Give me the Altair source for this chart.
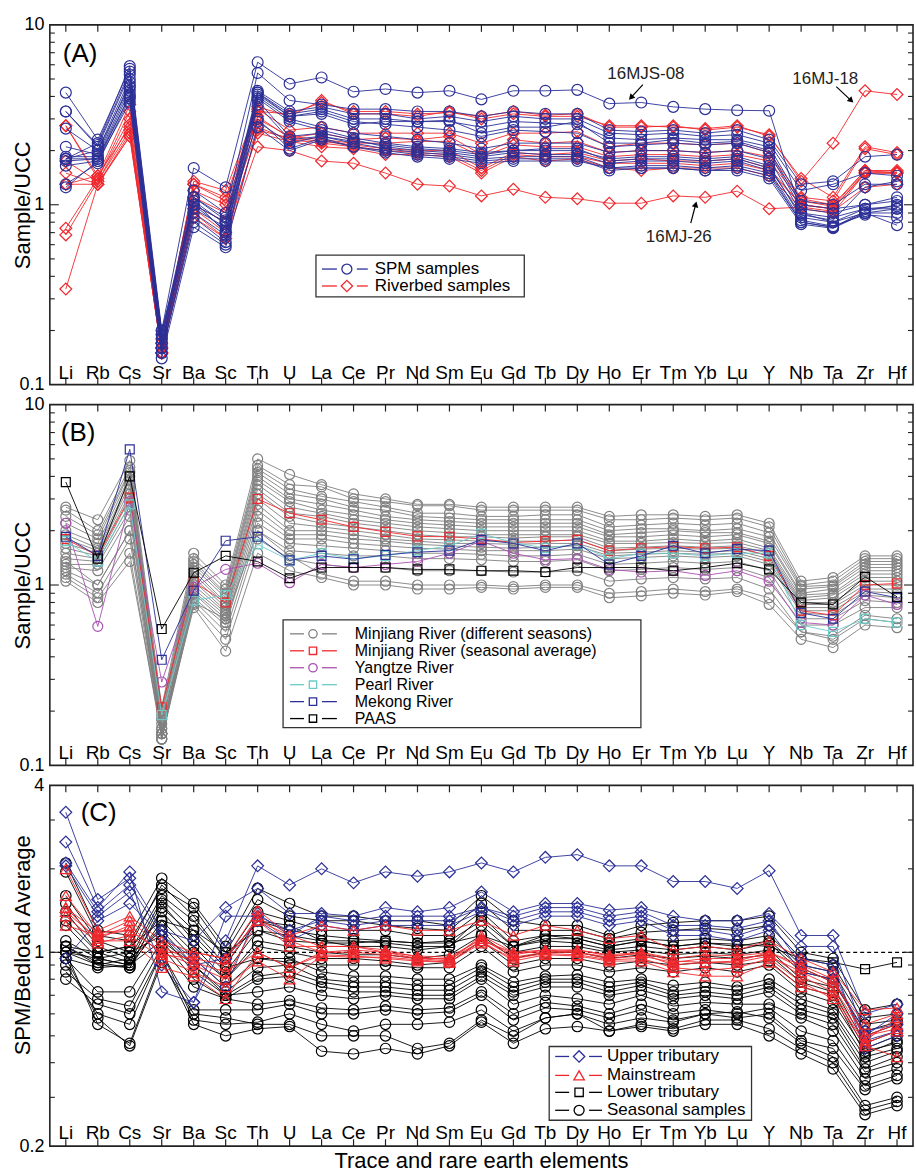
import altair as alt
import pandas as pd

ELEMENTS = ["Li", "Rb", "Cs", "Sr", "Ba", "Sc", "Th", "U", "La", "Ce", "Pr", "Nd", "Sm",
            "Eu", "Gd", "Tb", "Dy", "Ho", "Er", "Tm", "Yb", "Lu", "Y", "Nb", "Ta", "Zr", "Hf"]

# ---------------- Panel A : Sample/UCC ----------------
# order: Li Rb Cs Sr | Ba Sc | Th U | La Ce Pr Nd Sm | Eu Gd Tb Dy | Ho Er Tm Yb Lu | Y | Nb Ta Zr Hf
SPM_SAMPLES = [
    [1.8, 2.2, 5.9, 0.20, 1.6, 1.25, 6.2, 4.7, 5.1, 4.25, 4.4, 4.2, 4.3, 3.85, 4.3, 4.3, 4.35, 3.65, 3.7, 3.5, 3.4, 3.35, 3.33, 0.9, 0.8, 0.95, 0.98],
    [4.2, 2.3, 5.7, 0.19, 1.2, 0.9, 5.4, 3.8, 3.6, 3.4, 3.4, 3.3, 3.3, 3.1, 3.3, 3.2, 3.2, 2.6, 2.55, 2.6, 2.5, 2.6, 2.3, 1.3, 1.35, 1.85, 1.9],
    [3.3, 2.1, 5.3, 0.18, 1.1, 0.85, 4.3, 3.3, 3.5, 3.2, 3.2, 3.0, 3.1, 2.9, 3.1, 3.0, 3.0, 2.5, 2.45, 2.5, 2.4, 2.45, 2.2, 1.2, 1.3, 1.5, 1.45],
    [2.65, 2.0, 5.0, 0.17, 1.0, 0.8, 4.2, 3.2, 3.4, 3.0, 3.0, 2.9, 2.9, 2.7, 2.9, 2.85, 2.8, 2.35, 2.3, 2.35, 2.3, 2.3, 2.1, 1.05, 1.0, 1.3, 1.3],
    [2.1, 1.9, 4.8, 0.17, 0.95, 0.75, 4.1, 3.1, 3.3, 2.9, 2.8, 2.7, 2.6, 2.4, 2.6, 2.55, 2.5, 2.1, 2.15, 2.2, 2.15, 2.2, 1.95, 0.95, 0.9, 1.0, 1.05],
    [1.85, 1.85, 4.5, 0.16, 1.05, 0.7, 4.0, 3.0, 2.7, 2.5, 2.4, 2.3, 2.2, 2.05, 2.2, 2.2, 2.2, 1.95, 2.0, 2.0, 1.95, 2.0, 1.8, 0.9, 0.85, 0.95, 0.95],
    [1.75, 1.8, 4.3, 0.16, 0.9, 0.68, 3.9, 2.9, 2.6, 2.35, 2.2, 2.1, 2.05, 1.95, 2.0, 2.0, 2.0, 1.8, 1.85, 1.85, 1.8, 1.85, 1.65, 0.85, 0.8, 0.9, 0.9],
    [1.65, 1.75, 4.1, 0.15, 0.85, 0.62, 3.8, 2.4, 2.5, 2.3, 2.1, 2.0, 1.95, 1.85, 1.95, 1.9, 1.9, 1.7, 1.75, 1.75, 1.7, 1.75, 1.55, 0.82, 0.76, 0.88, 0.85],
    [1.3, 1.7, 3.9, 0.15, 0.8, 0.6, 3.6, 2.3, 2.4, 2.2, 2.05, 1.95, 1.9, 1.8, 1.85, 1.85, 1.85, 1.6, 1.65, 1.65, 1.6, 1.65, 1.5, 0.8, 0.75, 0.9, 0.77],
    [1.25, 1.75, 3.7, 0.14, 0.75, 0.58, 2.7, 2.0, 2.3, 2.1, 2.0, 1.9, 1.85, 1.75, 1.8, 1.8, 1.8, 1.55, 1.6, 1.6, 1.55, 1.6, 1.45, 0.8, 0.75, 0.92, 1.0],
    [1.8, 2.0, 4.6, 0.18, 1.1, 0.82, 2.9, 2.2, 2.4, 2.25, 2.15, 2.05, 2.0, 1.9, 2.0, 2.05, 2.05, 1.75, 1.8, 1.8, 1.75, 1.8, 1.6, 0.88, 0.82, 1.25, 1.35],
    [3.3, 2.15, 5.5, 0.19, 1.05, 0.78, 4.2, 3.1, 3.2, 2.8, 2.9, 2.9, 2.95, 2.5, 2.7, 2.7, 2.9, 2.2, 2.2, 2.3, 2.2, 2.25, 2.0, 1.0, 0.95, 1.0, 1.1],
    [1.8, 1.8, 4.0, 0.20, 1.0, 0.72, 3.0, 2.05, 2.35, 2.1, 1.95, 1.85, 1.8, 1.7, 1.75, 1.75, 1.75, 1.6, 1.6, 1.6, 1.55, 1.55, 1.4, 0.78, 0.74, 0.9, 0.95],
]
RIVERBED_SAMPLES = [
    [0.34, 1.3, 2.4, 0.15, 0.9, 0.65, 2.1, 2.0, 1.75, 1.7, 1.5, 1.3, 1.27, 1.12, 1.22, 1.1, 1.08, 1.02, 1.02, 1.12, 1.1, 1.19, 0.95, 0.97, 0.92, 1.25, 1.3],
    [0.68, 1.35, 2.6, 0.15, 1.3, 1.05, 3.3, 3.2, 3.7, 3.3, 3.3, 3.2, 3.25, 3.1, 3.3, 3.15, 3.2, 2.7, 2.7, 2.75, 2.6, 2.7, 2.45, 1.35, 2.2, 4.3, 4.1],
    [0.74, 1.4, 3.0, 0.16, 1.35, 1.2, 3.5, 3.1, 3.8, 3.2, 3.2, 3.1, 3.3, 3.0, 3.2, 3.1, 3.1, 2.75, 2.75, 2.7, 2.65, 2.75, 2.4, 1.4, 1.1, 2.1, 1.95],
    [2.75, 1.45, 3.6, 0.17, 1.3, 1.1, 3.4, 2.6, 2.7, 2.5, 2.5, 2.5, 2.5, 2.2, 2.5, 2.5, 2.55, 2.1, 2.2, 2.2, 2.15, 2.2, 1.95, 1.1, 1.05, 2.05, 1.9],
    [1.75, 1.35, 2.8, 0.16, 1.2, 1.0, 3.0, 2.4, 2.3, 2.2, 2.2, 2.25, 2.25, 1.85, 2.15, 2.1, 2.1, 1.85, 1.9, 1.9, 1.85, 1.9, 1.75, 1.05, 0.98, 1.55, 1.5],
    [1.5, 1.3, 2.5, 0.15, 1.0, 0.8, 2.7, 2.3, 2.2, 2.1, 2.0, 1.95, 1.9, 1.55, 1.9, 1.85, 1.85, 1.7, 1.7, 1.7, 1.65, 1.7, 1.55, 1.0, 0.95, 1.5, 1.5],
    [1.3, 1.3, 2.4, 0.15, 0.95, 0.7, 2.5, 2.25, 2.1, 2.05, 1.9, 1.9, 1.85, 1.5, 1.85, 1.75, 1.8, 1.6, 1.55, 1.6, 1.6, 1.6, 1.45, 0.95, 0.9, 1.5, 1.5],
    [2.75, 1.4, 3.3, 0.16, 1.1, 0.9, 3.1, 2.35, 2.5, 2.3, 2.35, 2.3, 2.4, 1.9, 2.3, 2.2, 2.25, 1.95, 2.0, 2.0, 1.95, 2.0, 1.85, 1.08, 1.0, 1.55, 1.55],
    [1.3, 1.45, 2.7, 0.15, 0.85, 0.65, 2.6, 2.35, 2.25, 2.15, 2.05, 2.0, 2.0, 1.6, 1.95, 1.9, 1.95, 1.75, 1.8, 1.75, 1.75, 1.8, 1.6, 1.0, 0.95, 1.52, 1.52],
]

# ---------------- Panel B : Sample/UCC ----------------
MINJIANG_SEASONS = [
    [2.7, 2.3, 4.9, 0.21, 1.5, 1.0, 5.0, 4.1, 3.6, 3.2, 3.0, 2.8, 2.8, 2.7, 2.7, 2.7, 2.7, 2.4, 2.45, 2.45, 2.4, 2.45, 2.2, 1.05, 1.1, 1.45, 1.45],
    [2.6, 2.0, 4.5, 0.20, 1.4, 0.95, 4.6, 3.6, 3.5, 3.0, 2.9, 2.75, 2.75, 2.6, 2.6, 2.6, 2.6, 2.3, 2.3, 2.35, 2.3, 2.35, 2.1, 1.0, 1.05, 1.4, 1.4],
    [2.4, 1.9, 4.3, 0.19, 1.35, 0.9, 4.4, 3.4, 3.1, 2.9, 2.7, 2.5, 2.5, 2.4, 2.4, 2.45, 2.45, 2.1, 2.15, 2.2, 2.15, 2.2, 1.95, 0.98, 1.0, 1.35, 1.35],
    [2.2, 1.8, 4.2, 0.18, 1.3, 0.88, 4.2, 3.2, 3.0, 2.7, 2.6, 2.4, 2.35, 2.3, 2.3, 2.3, 2.3, 2.0, 2.05, 2.05, 2.0, 2.05, 1.85, 0.95, 0.98, 1.3, 1.3],
    [2.0, 1.7, 4.0, 0.18, 1.25, 0.85, 4.0, 3.0, 2.8, 2.6, 2.4, 2.3, 2.25, 2.2, 2.2, 2.2, 2.2, 1.9, 1.95, 2.0, 1.95, 1.95, 1.75, 0.9, 0.95, 1.25, 1.25],
    [1.9, 1.6, 3.8, 0.17, 1.2, 0.8, 3.8, 2.9, 2.6, 2.45, 2.3, 2.2, 2.15, 2.1, 2.1, 2.1, 2.1, 1.85, 1.85, 1.9, 1.85, 1.9, 1.7, 0.88, 0.9, 1.2, 1.2],
    [1.8, 1.55, 3.6, 0.16, 1.15, 0.78, 3.6, 2.7, 2.5, 2.3, 2.2, 2.1, 2.05, 2.0, 2.0, 2.0, 2.0, 1.75, 1.75, 1.8, 1.75, 1.8, 1.6, 0.85, 0.88, 1.15, 1.15],
    [1.7, 1.5, 3.4, 0.16, 1.1, 0.75, 3.4, 2.5, 2.4, 2.2, 2.1, 2.0, 1.95, 1.9, 1.9, 1.9, 1.9, 1.7, 1.7, 1.72, 1.7, 1.72, 1.55, 0.82, 0.85, 1.1, 1.1],
    [1.6, 1.45, 3.2, 0.15, 1.05, 0.72, 3.2, 2.4, 2.2, 2.1, 2.0, 1.9, 1.85, 1.85, 1.82, 1.85, 1.85, 1.6, 1.62, 1.65, 1.62, 1.65, 1.5, 0.8, 0.8, 1.05, 1.05],
    [1.5, 1.4, 3.0, 0.15, 1.0, 0.7, 3.0, 2.2, 2.1, 2.0, 1.9, 1.8, 1.78, 1.75, 1.75, 1.75, 1.78, 1.55, 1.58, 1.6, 1.58, 1.6, 1.45, 0.78, 0.78, 1.0, 1.0],
    [1.4, 1.35, 2.8, 0.15, 0.95, 0.68, 2.8, 2.0, 2.0, 1.9, 1.8, 1.75, 1.7, 1.7, 1.68, 1.7, 1.7, 1.5, 1.52, 1.55, 1.52, 1.55, 1.4, 0.75, 0.75, 0.95, 0.95],
    [1.3, 1.3, 2.6, 0.14, 0.92, 0.65, 2.6, 1.9, 1.9, 1.8, 1.75, 1.68, 1.65, 1.62, 1.6, 1.62, 1.65, 1.45, 1.48, 1.5, 1.48, 1.5, 1.35, 0.72, 0.72, 0.92, 0.9],
    [1.25, 1.2, 2.4, 0.14, 0.9, 0.62, 2.4, 1.8, 1.8, 1.7, 1.65, 1.6, 1.58, 1.55, 1.55, 1.55, 1.58, 1.4, 1.42, 1.45, 1.42, 1.45, 1.3, 0.7, 0.68, 0.88, 0.85],
    [1.2, 1.0, 2.0, 0.15, 0.85, 0.6, 2.2, 1.7, 1.65, 1.6, 1.55, 1.5, 1.5, 1.48, 1.45, 1.45, 1.48, 1.3, 1.32, 1.35, 1.32, 1.35, 1.2, 0.65, 0.65, 0.82, 0.8],
    [1.15, 0.9, 1.8, 0.14, 0.82, 0.55, 2.0, 1.55, 1.5, 1.45, 1.45, 1.4, 1.4, 1.38, 1.35, 1.35, 1.38, 1.2, 1.22, 1.25, 1.22, 1.25, 1.1, 0.6, 0.6, 0.75, 0.75],
    [1.1, 0.85, 1.5, 0.14, 0.78, 0.5, 1.8, 1.4, 1.3, 1.25, 1.25, 1.2, 1.2, 1.2, 1.18, 1.18, 1.2, 1.05, 1.08, 1.1, 1.08, 1.1, 0.95, 0.55, 0.52, 0.68, 0.65],
    [1.05, 0.8, 1.35, 0.15, 0.75, 0.43, 1.5, 1.2, 1.1, 1.0, 1.0, 0.95, 0.95, 0.97, 0.95, 0.97, 0.97, 0.85, 0.87, 0.9, 0.88, 0.92, 0.78, 0.5, 0.45, 0.6, 0.58],
    [1.35, 1.0, 2.0, 0.15, 0.8, 0.65, 2.0, 1.45, 1.15, 1.05, 1.05, 1.0, 1.0, 1.0, 0.98, 1.0, 1.0, 0.9, 0.92, 0.95, 0.92, 0.95, 0.85, 0.55, 0.5, 0.65, 0.62],
]
MINJIANG_AVERAGE = [1.8, 1.45, 3.05, 0.21, 1.04, 0.8, 3.0, 2.5, 2.3, 2.1, 1.97, 1.86, 1.85, 1.8, 1.72, 1.75, 1.78, 1.55, 1.6, 1.63, 1.6, 1.62, 1.45, 0.72, 0.68, 1.0, 1.02]
YANGTZE = [2.2, 0.59, 2.9, 0.29, 0.97, 1.22, 1.32, 1.03, 1.3, 1.25, 1.3, 1.35, 1.5, 1.75, 1.5, 1.38, 1.4, 1.22, 1.18, 1.2, 1.13, 1.2, 1.05, 0.62, 0.6, 0.88, 0.78]
PEARL = [1.75, 1.35, 2.8, 0.19, 0.82, 0.88, 1.68, 1.37, 1.5, 1.4, 1.45, 1.55, 1.65, 1.92, 1.72, 1.6, 1.68, 1.4, 1.5, 1.5, 1.45, 1.5, 1.5, 0.6, 0.55, 0.65, 0.62]
MEKONG = [1.85, 1.45, 5.65, 0.385, 0.93, 1.76, 1.85, 1.37, 1.45, 1.39, 1.47, 1.52, 1.55, 1.78, 1.7, 1.55, 1.7, 1.3, 1.45, 1.65, 1.5, 1.58, 1.55, 0.7, 0.65, 0.92, 0.85]
PAAS = [3.72, 1.4, 4.0, 0.57, 1.17, 1.45, 1.35, 1.09, 1.25, 1.25, 1.25, 1.22, 1.22, 1.2, 1.2, 1.18, 1.25, 1.25, 1.25, 1.2, 1.25, 1.32, 1.22, 0.8, 0.78, 1.11, 0.86]

# ---------------- Panel C : SPM/Bedload average ----------------
UPPER_TRIBUTARY = [
    [2.5, 1.45, 1.95, 0.72, 0.66, 1.1, 2.05, 1.75, 2.0, 1.78, 1.95, 1.88, 1.95, 2.1, 1.95, 2.2, 2.25, 2.05, 2.05, 1.8, 1.8, 1.7, 1.97, 1.15, 1.15, 0.6, 0.65],
    [3.2, 1.55, 1.85, 1.2, 1.1, 1.45, 1.7, 1.38, 1.38, 1.35, 1.45, 1.4, 1.45, 1.65, 1.4, 1.5, 1.5, 1.42, 1.45, 1.35, 1.3, 1.3, 1.38, 1.05, 1.05, 0.5, 0.6],
    [2.1, 1.4, 1.75, 1.15, 0.95, 0.75, 1.38, 1.15, 1.35, 1.3, 1.35, 1.35, 1.35, 1.45, 1.35, 1.45, 1.45, 1.35, 1.4, 1.25, 1.25, 1.22, 1.3, 0.9, 0.85, 0.48, 0.52],
    [2.05, 1.35, 1.65, 0.9, 0.66, 1.35, 1.35, 1.2, 1.3, 1.25, 1.3, 1.3, 1.3, 1.45, 1.3, 1.4, 1.4, 1.3, 1.35, 1.2, 1.2, 1.15, 1.25, 0.95, 0.9, 0.45, 0.5],
    [0.95, 1.3, 1.5, 1.15, 0.9, 0.95, 1.3, 1.1, 1.25, 1.2, 1.25, 1.25, 1.25, 1.4, 1.25, 1.35, 1.35, 1.25, 1.3, 1.15, 1.15, 1.1, 1.2, 0.85, 0.8, 0.52, 0.55],
]
MAINSTREAM = [
    [2.0, 1.2, 1.35, 1.1, 1.0, 0.95, 1.42, 1.15, 1.25, 1.2, 1.25, 1.2, 1.2, 1.3, 1.15, 1.25, 1.2, 1.12, 1.15, 1.02, 1.05, 1.02, 1.1, 0.95, 0.85, 0.62, 0.63],
    [1.6, 1.15, 1.2, 1.0, 0.9, 0.8, 1.3, 1.05, 1.05, 1.05, 1.0, 0.95, 0.93, 1.15, 1.0, 1.0, 1.02, 0.97, 0.99, 0.9, 0.92, 0.92, 0.97, 0.85, 0.75, 0.5, 0.55],
    [1.45, 1.1, 1.1, 0.88, 0.82, 0.68, 1.0, 0.88, 0.98, 0.97, 0.95, 0.93, 0.92, 1.1, 0.93, 0.98, 0.97, 0.93, 0.93, 0.85, 0.82, 0.82, 0.92, 0.75, 0.7, 0.47, 0.52],
    [1.4, 1.12, 1.25, 0.98, 0.95, 0.9, 1.35, 1.1, 1.0, 1.0, 0.98, 0.95, 0.95, 1.12, 0.98, 1.02, 1.0, 0.95, 0.97, 0.92, 0.95, 0.95, 0.98, 0.82, 0.72, 0.48, 0.58],
    [1.35, 1.08, 1.15, 0.95, 0.85, 0.75, 0.93, 0.8, 0.97, 0.96, 0.96, 0.94, 0.92, 1.08, 0.95, 0.99, 0.98, 0.94, 0.95, 0.88, 0.86, 0.88, 0.95, 0.78, 0.68, 0.46, 0.42],
    [1.25, 1.15, 1.3, 1.05, 0.92, 0.85, 1.0, 0.88, 1.0, 1.02, 1.0, 0.97, 0.96, 1.12, 0.96, 1.0, 1.0, 0.96, 1.0, 0.95, 0.98, 0.97, 1.0, 0.88, 0.78, 0.55, 0.6],
    [1.45, 1.18, 1.2, 1.0, 1.0, 0.95, 1.3, 1.15, 1.05, 1.05, 1.02, 0.96, 0.94, 1.1, 1.0, 1.02, 1.02, 0.98, 1.0, 0.93, 0.92, 0.93, 1.0, 0.9, 0.8, 0.5, 0.53],
]
LOWER_TRIBUTARY = [
    [1.05, 1.0, 1.05, 1.3, 1.2, 1.0, 1.2, 1.1, 1.08, 1.08, 1.1, 1.08, 1.08, 1.15, 1.05, 1.12, 1.12, 1.05, 1.1, 1.05, 1.08, 1.07, 1.05, 0.95, 0.92, 0.87, 0.92],
]
SEASONAL_SAMPLES = [
    [2.1, 1.2, 1.15, 1.85, 1.5, 1.05, 1.7, 1.5, 1.35, 1.35, 1.3, 1.3, 1.25, 1.6, 1.3, 1.25, 1.25, 1.15, 1.25, 1.28, 1.3, 1.3, 1.35, 1.0, 0.95, 0.62, 0.65],
    [1.95, 1.15, 1.1, 1.7, 1.45, 1.0, 1.55, 1.35, 1.3, 1.3, 1.25, 1.22, 1.2, 1.5, 1.2, 1.2, 1.2, 1.12, 1.18, 1.2, 1.22, 1.2, 1.25, 0.95, 0.9, 0.58, 0.6],
    [1.6, 1.1, 1.0, 1.6, 1.3, 0.95, 1.4, 1.3, 1.2, 1.2, 1.2, 1.15, 1.15, 1.4, 1.1, 1.15, 1.15, 1.08, 1.12, 1.1, 1.12, 1.1, 1.15, 0.9, 0.85, 0.55, 0.57],
    [1.5, 1.05, 0.95, 1.55, 1.2, 0.9, 1.3, 1.2, 1.15, 1.12, 1.1, 1.08, 1.1, 1.3, 1.05, 1.1, 1.08, 1.02, 1.05, 1.02, 1.05, 1.02, 1.08, 0.85, 0.8, 0.5, 0.55],
    [1.4, 1.0, 0.92, 1.5, 1.1, 0.85, 1.2, 1.15, 1.1, 1.05, 1.05, 1.02, 1.05, 1.25, 1.0, 1.05, 1.05, 1.0, 1.02, 0.98, 1.0, 0.98, 1.02, 0.8, 0.75, 0.47, 0.52],
    [1.25, 0.95, 0.9, 1.4, 1.05, 0.8, 1.1, 1.05, 1.0, 0.98, 0.98, 0.95, 0.98, 1.15, 0.95, 1.0, 1.0, 0.95, 0.98, 0.95, 0.97, 0.95, 0.98, 0.78, 0.72, 0.45, 0.5],
    [1.05, 0.92, 0.88, 1.3, 1.0, 0.8, 1.05, 1.0, 0.95, 0.95, 0.93, 0.9, 0.92, 1.1, 0.9, 0.95, 0.95, 0.9, 0.93, 0.9, 0.92, 0.9, 0.93, 0.75, 0.7, 0.43, 0.48],
    [1.0, 0.95, 0.9, 1.25, 0.95, 0.75, 0.95, 0.95, 0.85, 0.82, 0.82, 0.8, 0.8, 0.9, 0.78, 0.82, 0.83, 0.78, 0.8, 0.76, 0.78, 0.75, 0.8, 0.68, 0.62, 0.42, 0.45],
    [1.0, 0.9, 0.95, 1.2, 0.9, 0.72, 0.88, 0.9, 0.8, 0.78, 0.78, 0.76, 0.76, 0.88, 0.75, 0.8, 0.8, 0.75, 0.78, 0.72, 0.75, 0.73, 0.77, 0.65, 0.6, 0.4, 0.44],
    [1.1, 0.95, 1.0, 1.15, 0.85, 0.7, 0.82, 0.85, 0.78, 0.75, 0.75, 0.73, 0.73, 0.85, 0.72, 0.78, 0.78, 0.72, 0.76, 0.7, 0.72, 0.7, 0.75, 0.62, 0.58, 0.38, 0.42],
    [0.95, 0.88, 0.9, 1.1, 0.8, 0.68, 0.8, 0.82, 0.75, 0.72, 0.72, 0.7, 0.7, 0.82, 0.7, 0.75, 0.75, 0.7, 0.73, 0.68, 0.7, 0.68, 0.72, 0.6, 0.55, 0.37, 0.4],
    [0.95, 0.72, 0.72, 1.1, 0.9, 0.7, 0.72, 0.75, 0.7, 0.68, 0.7, 0.68, 0.68, 0.8, 0.65, 0.7, 0.68, 0.65, 0.7, 0.64, 0.66, 0.65, 0.65, 0.58, 0.52, 0.35, 0.38],
    [0.85, 0.68, 0.64, 1.05, 0.75, 0.68, 0.65, 0.67, 0.63, 0.62, 0.64, 0.62, 0.63, 0.72, 0.6, 0.66, 0.64, 0.6, 0.65, 0.6, 0.62, 0.6, 0.63, 0.52, 0.48, 0.33, 0.36],
    [0.8, 0.65, 0.6, 1.0, 0.62, 0.62, 0.62, 0.65, 0.6, 0.6, 0.62, 0.6, 0.61, 0.7, 0.57, 0.63, 0.62, 0.58, 0.62, 0.57, 0.6, 0.58, 0.6, 0.48, 0.45, 0.32, 0.35],
    [0.9, 0.6, 0.55, 1.0, 0.57, 0.55, 0.56, 0.6, 0.55, 0.52, 0.55, 0.55, 0.56, 0.62, 0.52, 0.58, 0.6, 0.55, 0.58, 0.56, 0.6, 0.61, 0.58, 0.47, 0.42, 0.28, 0.3],
    [1.0, 0.55, 0.47, 0.95, 0.55, 0.5, 0.53, 0.54, 0.44, 0.43, 0.45, 0.43, 0.46, 0.56, 0.47, 0.53, 0.54, 0.52, 0.54, 0.52, 0.55, 0.55, 0.5, 0.43, 0.38, 0.26, 0.28],
    [0.95, 0.58, 0.46, 0.92, 0.6, 0.58, 0.55, 0.55, 0.5, 0.5, 0.5, 0.45, 0.47, 0.57, 0.5, 0.58, 0.6, 0.52, 0.55, 0.53, 0.57, 0.57, 0.53, 0.45, 0.4, 0.27, 0.29],
    [1.3, 1.0, 1.05, 1.75, 1.35, 0.95, 1.3, 1.25, 1.1, 1.1, 1.08, 1.05, 1.05, 1.35, 1.05, 1.15, 1.12, 1.05, 1.1, 1.05, 1.08, 1.05, 1.1, 0.88, 0.78, 0.52, 0.56],
    [1.05, 0.9, 0.88, 1.45, 1.15, 0.88, 0.95, 0.92, 0.9, 0.9, 0.9, 0.88, 0.88, 1.05, 0.85, 0.9, 0.9, 0.85, 0.88, 0.85, 0.88, 0.85, 0.9, 0.72, 0.66, 0.44, 0.47],
]

# ---------------- styling ----------------
W = 866
HA, HB, HC = 361, 362, 362
FONT = "Liberation Sans"
NAVY = "#2B2F96"
RED = "#F0282D"
GRAY = "#808080"
PURPLE = "#A851B0"
CYAN = "#6CCBC9"
FRAME = "#222222"

ONE = pd.DataFrame({"a": [0]})
X = alt.X("element:N", sort=ELEMENTS,
          scale=alt.Scale(type="point", domain=ELEMENTS, padding=0.5), axis=None)


def long_df(rows, name):
    recs = []
    for i, row in enumerate(rows):
        assert len(row) == len(ELEMENTS), (name, i, len(row))
        for k, (el, v) in enumerate(zip(ELEMENTS, row)):
            recs.append({"element": el, "idx": k, "value": v, "series": f"{name}-{i}"})
    return pd.DataFrame(recs)


def make_y(domain, values, title, title_y):
    return alt.Y("value:Q",
                 scale=alt.Scale(type="log", domain=domain, nice=False),
                 axis=alt.Axis(values=values, format="~g", title=title, ticks=False,
                               domain=False, grid=False, labelFontSize=18, labelPadding=6,
                               labelColor="black", labelOverlap=False, labelFont=FONT,
                               titleFontSize=22, titleFontWeight="normal", titleFont=FONT,
                               titleX=-27, titleY=title_y, titleBaseline="middle",
                               titleColor="black"))


def series(rows, name, Y, color, shape, size):
    df = long_df(rows, name)
    base = alt.Chart(df).encode(x=X, y=Y)
    line = base.mark_line(color=color, strokeWidth=0.9).encode(
        detail="series:N", order=alt.Order("idx:Q"))
    pts = base.mark_point(shape=shape, color=color, size=size, filled=False,
                          strokeWidth=1.2, opacity=1)
    return [line, pts]


def frame_ticks(Y, H, minor, major, label_off):
    el = pd.DataFrame({"element": ELEMENTS})
    out = [
        alt.Chart(el).mark_rule(color=FRAME, strokeWidth=1.2).encode(
            x=X, y=alt.value(0), y2=alt.value(7)),
        alt.Chart(el).mark_rule(color=FRAME, strokeWidth=1.2).encode(
            x=X, y=alt.value(H - 7), y2=alt.value(H)),
        alt.Chart(el).mark_text(fontSize=19, baseline="alphabetic", color="black",
                                font=FONT).encode(x=X, text="element:N",
                                                  y=alt.value(H - label_off)),
    ]
    for vals, L in ((minor, 5), (major, 9)):
        d = pd.DataFrame({"value": vals})
        out.append(alt.Chart(d).mark_rule(color=FRAME, strokeWidth=1.1).encode(
            y=Y, x=alt.value(0), x2=alt.value(L)))
        out.append(alt.Chart(d).mark_rule(color=FRAME, strokeWidth=1.1).encode(
            y=Y, x=alt.value(W - L), x2=alt.value(W)))
    return out


def legend(entries, box, rows_y, lx0, lx1, mx, tx, gap, font_size=17):
    x0, x1, y0, y1 = box
    out = [alt.Chart(ONE).mark_rect(fill="white", stroke="#333333", strokeWidth=1.3).encode(
        x=alt.value(x0), x2=alt.value(x1), y=alt.value(y0), y2=alt.value(y1))]
    for (label, color, shape, size), y in zip(entries, rows_y):
        out.append(alt.Chart(ONE).mark_rule(color=color, strokeWidth=1.3).encode(
            x=alt.value(lx0), x2=alt.value(mx - gap), y=alt.value(y)))
        out.append(alt.Chart(ONE).mark_rule(color=color, strokeWidth=1.3).encode(
            x=alt.value(mx + gap), x2=alt.value(lx1), y=alt.value(y)))
        out.append(alt.Chart(ONE).mark_point(shape=shape, color=color, size=size, filled=False,
                                             strokeWidth=1.3, opacity=1).encode(
            x=alt.value(mx), y=alt.value(y)))
        out.append(alt.Chart(ONE).mark_text(text=label, align="left", baseline="middle",
                                            fontSize=font_size, color="black", font=FONT).encode(
            x=alt.value(tx), y=alt.value(y)))
    return out


def panel_label(text, x, y):
    return alt.Chart(ONE).mark_text(text=text, align="left", baseline="alphabetic",
                                    fontSize=26, color="black", font=FONT).encode(
        x=alt.value(x), y=alt.value(y))


def annotation(text, tx, ty, ax0, ay0, ax1, ay1, angle):
    return [
        alt.Chart(ONE).mark_text(text=text, align="center", baseline="middle", fontSize=17,
                                 color="#222222", font=FONT).encode(
            x=alt.value(tx), y=alt.value(ty)),
        alt.Chart(ONE).mark_rule(color="black", strokeWidth=1.2).encode(
            x=alt.value(ax0), y=alt.value(ay0), x2=alt.value(ax1), y2=alt.value(ay1)),
        alt.Chart(ONE).mark_point(shape="triangle-up", filled=True, color="black", size=45,
                                  angle=angle, opacity=1).encode(
            x=alt.value(ax1), y=alt.value(ay1)),
    ]


LOG_MINOR_AB = [0.2, 0.3, 0.4, 0.5, 0.6, 0.7, 0.8, 0.9, 2, 3, 4, 5, 6, 7, 8, 9]
LOG_MINOR_C = [0.3, 0.4, 0.5, 0.6, 0.7, 0.8, 0.9, 2, 3]

# ---- Panel A
YA = make_y([0.1, 10], [0.1, 1, 10], "Sample/UCC", HA / 2)
layers_a = []
layers_a += series(RIVERBED_SAMPLES, "rb", YA, RED, "diamond", 140)
layers_a += series(SPM_SAMPLES, "spm", YA, NAVY, "circle", 120)
layers_a += frame_ticks(YA, HA, LOG_MINOR_AB, [1], 6)
layers_a.append(panel_label("(A)", 13, 37))
layers_a += legend([("SPM samples", NAVY, "circle", 100),
                    ("Riverbed samples", RED, "diamond", 130)],
                   (267, 476, 231, 273), [245, 262], 273, 319, 298, 326, 10)
layers_a += annotation("16MJS-08", 598, 49, 595, 60, 583, 73, 223)
layers_a += annotation("16MJ-18", 778, 54, 789, 62, 804, 76, 133)
layers_a += annotation("16MJ-26", 631, 213, 643, 199, 648, 180, 15)
panel_a = alt.layer(*layers_a).properties(width=W, height=HA)

# ---- Panel B
YB = make_y([0.1, 10], [0.1, 1, 10], "Sample/UCC", HB / 2)
layers_b = []
layers_b += series(MINJIANG_SEASONS, "mjs", YB, GRAY, "circle", 100)
layers_b += series([MINJIANG_AVERAGE], "mja", YB, RED, "square", 80)
layers_b += series([YANGTZE], "yz", YB, PURPLE, "circle", 100)
layers_b += series([PEARL], "pr", YB, CYAN, "square", 80)
layers_b += series([MEKONG], "mk", YB, NAVY, "square", 80)
layers_b += series([PAAS], "paas", YB, "black", "square", 80)
layers_b += frame_ticks(YB, HB, LOG_MINOR_AB, [1], 6)
layers_b.append(panel_label("(B)", 11, 37))
layers_b += legend([("Minjiang River (different seasons)", GRAY, "circle", 70),
                    ("Minjiang River (seasonal average)", RED, "square", 55),
                    ("Yangtze River", PURPLE, "circle", 70),
                    ("Pearl River", CYAN, "square", 55),
                    ("Mekong River", NAVY, "square", 55),
                    ("PAAS", "black", "square", 55)],
                   (234, 593, 216, 324), [230, 247, 264, 281, 298, 315], 241, 288, 264, 306, 9,
                   font_size=16)
panel_b = alt.layer(*layers_b).properties(width=W, height=HB)

# ---- Panel C
YC = make_y([0.2, 4], [0.2, 1, 4], "SPM/Bedload Average", 160)
layers_c = [alt.Chart(pd.DataFrame({"value": [1]})).mark_rule(
    color="black", strokeWidth=1.3, strokeDash=[4, 3]).encode(y=YC)]
layers_c += series(SEASONAL_SAMPLES, "ss", YC, "black", "circle", 110)
layers_c += series(LOWER_TRIBUTARY, "lt", YC, "black", "square", 80)
layers_c += series(UPPER_TRIBUTARY, "ut", YC, NAVY, "diamond", 140)
layers_c += series(MAINSTREAM, "ms", YC, RED, "triangle-up", 120)
layers_c += frame_ticks(YC, HC, LOG_MINOR_C, [1], 7)
layers_c.append(panel_label("(C)", 31, 36))
layers_c += legend([("Upper tributary", NAVY, "diamond", 130),
                    ("Mainstream", RED, "triangle-up", 110),
                    ("Lower tributary", "black", "square", 70),
                    ("Seasonal samples", "black", "circle", 100)],
                   (501, 704, 262, 336), [272, 291, 308, 326], 507, 554, 531, 559, 10)
layers_c.append(alt.Chart(ONE).mark_text(
    text="Trace and rare earth elements", align="center", baseline="middle",
    fontSize=22, color="black", font=FONT).encode(x=alt.value(W / 2), y=alt.value(HC + 15)))
panel_c = alt.layer(*layers_c).properties(width=W, height=HC)

chart = alt.vconcat(panel_a, panel_b, panel_c, spacing=20, bounds="flush").properties(
    padding={"left": 11, "top": 13, "right": 1, "bottom": 0}
).configure(font=FONT).configure_view(stroke=FRAME, strokeWidth=1.6)

chart.save("out.html", embed_options={"renderer": "svg", "actions": False})
